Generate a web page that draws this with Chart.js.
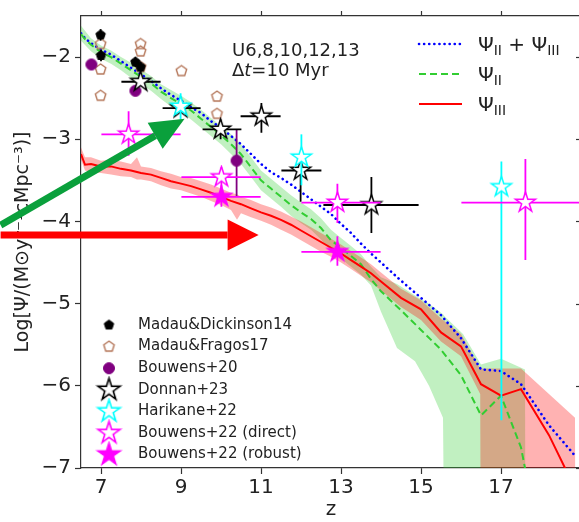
<!DOCTYPE html>
<html>
<head>
<meta charset="utf-8">
<script src="https://cdn.jsdelivr.net/npm/chart.js@4.4.1/dist/chart.umd.min.js"></script>
<style>
  html, body { margin: 0; padding: 0; overflow: hidden; background: #fff; }
  #wrap { width: 590px; height: 522px; }
</style>
</head>
<body>
<div id="wrap"><canvas id="sfrd" width="590" height="522"></canvas></div>
<script>
// --- model curves (log SFRD vs z) ---
const modelZ = [6.5, 6.6, 6.75, 7.0, 7.25, 7.5, 7.75, 8.0, 8.25, 8.5, 8.75, 9.0, 9.25, 9.5, 9.75, 10.0, 10.25, 10.5, 10.75, 11.0, 11.25, 11.5, 11.75, 12.0, 12.25, 12.5, 12.75, 13.0, 13.25, 13.5, 13.75, 14.0, 14.5, 15.0, 15.5, 16.0, 16.5, 17.0, 17.5, 18.2, 18.85];
const psiSum = [-1.71, -1.77, -1.83, -1.91, -1.97, -2.05, -2.13, -2.21, -2.29, -2.38, -2.46, -2.53, -2.61, -2.68, -2.78, -2.86, -2.96, -3.06, -3.18, -3.30, -3.40, -3.47, -3.55, -3.64, -3.73, -3.82, -3.91, -4.03, -4.14, -4.27, -4.39, -4.50, -4.72, -4.93, -5.14, -5.42, -5.80, -5.82, -5.98, -6.48, -6.85];
const psi2 = [-1.72, -1.78, -1.85, -1.94, -2.00, -2.08, -2.16, -2.24, -2.32, -2.42, -2.50, -2.57, -2.65, -2.75, -2.85, -2.95, -3.06, -3.18, -3.34, -3.50, -3.60, -3.70, -3.80, -3.89, -3.97, -4.08, -4.23, -4.32, -4.42, -4.52, -4.70, -4.85, -5.08, -5.32, -5.56, -5.87, -6.36, -6.12, -6.75, -8.5, -9.0];
const psi3 = [-3.18, -3.31, -3.30, -3.33, -3.33, -3.36, -3.38, -3.41, -3.43, -3.47, -3.51, -3.54, -3.57, -3.61, -3.65, -3.70, -3.75, -3.79, -3.84, -3.89, -3.93, -3.98, -4.04, -4.11, -4.18, -4.25, -4.32, -4.39, -4.47, -4.55, -4.63, -4.73, -4.93, -5.07, -5.35, -5.52, -5.98, -6.12, -6.04, -6.60, -7.25];

// shaded ranges
const psi2BandZ = [6.5, 6.75, 7.0, 7.25, 7.5, 7.75, 8.0, 8.25, 8.5, 8.75, 9.0, 9.25, 9.5, 9.75, 10.0, 10.25, 10.5, 10.75, 11.0, 11.25, 11.5, 11.75, 12.0, 12.25, 12.5, 12.75, 13.0, 13.25, 13.5, 13.75, 14.0, 14.4, 14.85, 15.2, 15.55, 15.6, 16.05, 16.5, 17.0, 17.6, 17.62];
const psi2Hi = [-1.62, -1.77, -1.86, -1.92, -2.00, -2.07, -2.15, -2.23, -2.33, -2.40, -2.47, -2.55, -2.64, -2.74, -2.84, -2.94, -3.06, -3.22, -3.38, -3.48, -3.58, -3.68, -3.77, -3.85, -3.96, -4.10, -4.20, -4.30, -4.40, -4.55, -4.68, -4.76, -4.90, -5.00, -5.13, -5.16, -5.37, -5.74, -5.67, -5.80, -9.0];
const psi2Lo = [-1.80, -1.93, -2.02, -2.08, -2.16, -2.25, -2.33, -2.41, -2.51, -2.60, -2.67, -2.76, -2.86, -2.96, -3.06, -3.18, -3.30, -3.46, -3.62, -3.72, -3.82, -3.93, -4.02, -4.10, -4.22, -4.36, -4.45, -4.55, -4.65, -4.78, -5.10, -5.54, -5.70, -6.00, -6.39, -9.0, -9.0, -9.0, -9.0, -9.0, -9.0];
const psi3BandZ = [6.5, 6.6, 6.75, 7.0, 7.25, 7.5, 7.75, 7.9, 8.0, 8.25, 8.5, 8.75, 9.0, 9.25, 9.5, 9.75, 10.0, 10.25, 10.4, 10.5, 10.75, 11.0, 11.25, 11.5, 11.75, 12.0, 12.25, 12.5, 12.75, 13.0, 13.25, 13.5, 13.75, 14.0, 14.5, 15.0, 15.5, 16.0, 16.48, 16.5, 17.0, 17.5, 18.85, 18.87];
const psi3Hi = [-3.10, -3.22, -3.22, -3.26, -3.25, -3.27, -3.30, -3.22, -3.33, -3.35, -3.39, -3.42, -3.46, -3.47, -3.51, -3.55, -3.60, -3.65, -3.67, -3.70, -3.74, -3.79, -3.83, -3.88, -3.94, -4.00, -4.07, -4.14, -4.21, -4.28, -4.36, -4.44, -4.52, -4.62, -4.82, -4.96, -5.18, -5.37, -5.79, -5.79, -5.79, -5.79, -6.39, -9.0];
const psi3Lo = [-3.25, -3.38, -3.40, -3.41, -3.43, -3.45, -3.46, -3.49, -3.49, -3.51, -3.56, -3.60, -3.62, -3.66, -3.70, -3.75, -3.80, -3.86, -3.98, -3.90, -3.95, -3.99, -4.04, -4.10, -4.16, -4.23, -4.30, -4.37, -4.43, -4.50, -4.58, -4.66, -4.74, -4.84, -5.04, -5.20, -5.46, -5.64, -6.10, -9.0, -9.0, -9.0, -9.0, -9.0];

// --- observations: [z, logSFRD, zMinus, zPlus, logMinus, logPlus] ---
const madauDickinson14 = [[6.99, -1.73, 0, 0, 0.07, 0.07], [7.0, -1.98, 0, 0, 0.07, 0.07], [7.86, -2.06, 0, 0, 0.06, 0.06], [7.99, -2.12, 0, 0, 0.06, 0.06]];
const madauFragos17 = [[6.99, -1.84], [6.99, -2.15], [6.99, -2.47], [7.99, -1.84], [7.99, -1.93], [7.99, -2.12], [9.01, -2.17], [9.9, -2.48], [9.9, -2.69]];
const bouwens20 = [[6.76, -2.09], [7.86, -2.41], [10.39, -3.26, 0, 0, 0.44, 0.38]];
const donnan23 = [[7.99, -2.30, 0.48, 0.50, 0.05, 0.05], [8.99, -2.62, 0.45, 0.50, 0.05, 0.05], [9.99, -2.88, 0.45, 0.52, 0.12, 0.12], [11.01, -2.72, 0.52, 0.48, 0.20, 0.16], [11.99, -3.38, 0.48, 0.52, 0.38, 0.10], [13.76, -3.80, 1.20, 1.18, 0.34, 0.34]];
const harikane22 = [[8.99, -2.60, 0, 0, 0.16, 0.16], [12.01, -3.22, 0, 0, 0.34, 0.28], [17.01, -3.58, 0, 0, 2.84, 0.31]];
const bouwens22Direct = [[7.69, -2.94, 0.68, 1.30, 0.26, 0.28], [10.01, -3.46, 1.0, 0.98, 0.14, 0.12], [12.91, -3.77, 0.9, 1.08, 0.25, 0.23], [17.61, -3.77, 1.6, 1.6, 0.70, 0.53]];
const bouwens22Robust = [[10.01, -3.70, 1.0, 0.98, 0.12, 0.14], [12.91, -4.37, 0.9, 1.08, 0.17, 0.19]];

const xTicks = [7, 9, 11, 13, 15, 17];
const yTicks = [-2, -3, -4, -5, -6, -7];

const FONT = 'DejaVu Sans';
const INK = '#222';
const GREEN = 'rgb(50,205,50)';
const BROWN = '#b5775a';
const PURPLE = '#800080';

const pts = (zs, vs) => zs.map((z, i) => ({ x: z, y: vs[i] }));
const obsPts = rows => rows.map(r => ({ x: r[0], y: r[1] }));

function marker(kind, fill, stroke, r, lw) {
  const c = document.createElement('canvas');
  const s = Math.ceil(2 * r + lw + 2);
  c.width = c.height = s;
  const g = c.getContext('2d');
  g.translate(s / 2, s / 2);
  g.beginPath();
  if (kind === 'circle') {
    g.arc(0, 0, r, 0, 2 * Math.PI);
  } else {
    const n = kind === 'star' ? 10 : 5;
    for (let i = 0; i < n; i++) {
      const rr = kind === 'star' && i % 2 ? r * 0.382 : r;
      const a = -Math.PI / 2 + i * 2 * Math.PI / n;
      g.lineTo(rr * Math.cos(a), rr * Math.sin(a));
    }
    g.closePath();
  }
  if (fill) { g.fillStyle = fill; g.fill(); }
  if (stroke) { g.lineWidth = lw; g.strokeStyle = stroke; g.stroke(); }
  return c;
}

const mk = {
  md: marker('pentagon', '#000', '#000', 5, 1),
  mf: marker('pentagon', null, BROWN, 5.5, 1.4),
  b20: marker('circle', PURPLE, PURPLE, 5.5, 1),
  don: marker('star', '#fff', '#000', 10.5, 1.5),
  har: marker('star', '#fff', '#00ffff', 10.5, 1.5),
  bd: marker('star', '#fff', '#ff00ff', 10.5, 1.5),
  br: marker('star', '#ff00ff', '#ff00ff', 10.5, 1.5),
};

const band = (label, zs, vs, color, fill, order) => ({
  label, data: pts(zs, vs), showLine: true, borderWidth: 0, pointRadius: 0,
  backgroundColor: color, fill, order,
});
const curve = (label, vs, color, dash, width, cap, order) => ({
  label, data: pts(modelZ, vs), showLine: true, borderColor: color, borderWidth: width,
  borderDash: dash, borderCapStyle: cap, pointRadius: 0, fill: false, order,
});
const obs = (label, rows, img, errColor, order) => ({
  label, data: obsPts(rows), rows, errColor, pointStyle: img, pointRadius: 6, order,
});

const datasets = [
  band('psi2 hi', psi2BandZ, psi2Hi, 'rgba(50,205,50,0.3)', '+1', 30),
  band('psi2 lo', psi2BandZ, psi2Lo, 'rgba(0,0,0,0)', false, 31),
  band('psi3 hi', psi3BandZ, psi3Hi, 'rgba(255,0,0,0.3)', '+1', 28),
  band('psi3 lo', psi3BandZ, psi3Lo, 'rgba(0,0,0,0)', false, 29),
  curve('ΨII + ΨIII', psiSum, '#0000ff', [0.1, 5], 2.6, 'round', 22),
  curve('ΨII', psi2, GREEN, [7, 4], 2, 'butt', 21),
  curve('ΨIII', psi3, '#ff0000', [], 2, 'butt', 20),
  obs('Madau&Fragos17', madauFragos17, mk.mf, null, 9),
  obs('Madau&Dickinson14', madauDickinson14, mk.md, '#000', 8),
  obs('Bouwens+20', bouwens20, mk.b20, PURPLE, 7),
  obs('Donnan+23', donnan23, mk.don, '#000', 6),
  obs('Harikane+22', harikane22, mk.har, '#00ffff', 5),
  obs('Bouwens+22 (direct)', bouwens22Direct, mk.bd, '#ff00ff', 4),
  obs('Bouwens+22 (robust)', bouwens22Robust, mk.br, '#ff00ff', 3),
];

// error bars, drawn just under each dataset's own markers
const errorBars = {
  id: 'errorBars',
  beforeDatasetDraw(chart, args) {
    const ds = chart.data.datasets[args.index];
    if (!ds.rows || !ds.errColor) return;
    const { ctx, chartArea: a, scales: { x, y } } = chart;
    ctx.save();
    ctx.beginPath();
    ctx.rect(a.left, a.top, a.right - a.left, a.bottom - a.top);
    ctx.clip();
    ctx.strokeStyle = ds.errColor;
    ctx.lineWidth = 1.8;
    ds.rows.forEach(([z, v, zm, zp, vm, vp]) => {
      ctx.beginPath();
      if (zm || zp) {
        ctx.moveTo(x.getPixelForValue(z - zm), y.getPixelForValue(v));
        ctx.lineTo(x.getPixelForValue(z + zp), y.getPixelForValue(v));
      }
      if (vm || vp) {
        ctx.moveTo(x.getPixelForValue(z), y.getPixelForValue(v - vm));
        ctx.lineTo(x.getPixelForValue(z), y.getPixelForValue(v + vp));
      }
      ctx.stroke();
    });
    ctx.restore();
  },
};

function subText(ctx, x, y, parts, size) {
  parts.forEach(([t, sub]) => {
    ctx.font = (sub ? size * 0.7 : size) + 'px ' + FONT;
    ctx.fillText(t, x, y + (sub ? size * 0.22 : 0));
    x += ctx.measureText(t).width;
  });
}

function arrow(ctx, x0, y0, x1, y1, color, w, headLen, headW) {
  const ang = Math.atan2(y1 - y0, x1 - x0);
  const bx = x1 - headLen * Math.cos(ang), by = y1 - headLen * Math.sin(ang);
  ctx.save();
  ctx.strokeStyle = ctx.fillStyle = color;
  ctx.lineWidth = w;
  ctx.beginPath(); ctx.moveTo(x0, y0); ctx.lineTo(bx, by); ctx.stroke();
  ctx.beginPath();
  ctx.moveTo(x1, y1);
  ctx.lineTo(bx + headW * Math.sin(ang), by - headW * Math.cos(ang));
  ctx.lineTo(bx - headW * Math.sin(ang), by + headW * Math.cos(ang));
  ctx.closePath(); ctx.fill();
  ctx.restore();
}

// annotation arrows, in data coordinates: [z0, v0, z1, v1]
const greenArrow = [4.49, -4.045, 9.09, -2.75];
const redArrow = [4.49, -4.165, 10.94, -4.165];

const decorations = {
  id: 'decorations',
  afterDraw(chart) {
    const { ctx, chartArea: a, scales: { x, y } } = chart;
    const dsBy = l => chart.data.datasets.find(d => d.label === l);
    ctx.save();
    // inward ticks on the right spine
    ctx.strokeStyle = '#333'; ctx.lineWidth = 1.2;
    yTicks.forEach(v => {
      const py = Math.round(y.getPixelForValue(v)) + 0.5;
      ctx.beginPath(); ctx.moveTo(a.right - 5, py); ctx.lineTo(a.right, py); ctx.stroke();
    });

    // run label
    ctx.fillStyle = INK; ctx.textBaseline = 'alphabetic'; ctx.textAlign = 'left';
    ctx.font = '18px ' + FONT;
    ctx.fillText('U6,8,10,12,13', a.left + 151, a.top + 40);
    let tx = a.left + 151;
    ctx.fillText('Δ', tx, a.top + 60); tx += ctx.measureText('Δ').width;
    ctx.font = 'italic 18px ' + FONT;
    ctx.fillText('t', tx, a.top + 60); tx += ctx.measureText('t').width;
    ctx.font = '18px ' + FONT;
    ctx.fillText('=10 Myr', tx, a.top + 60);

    // model legend (upper right)
    const lines = [
      ['ΨII + ΨIII', [['Ψ'], ['II', 1], [' + Ψ'], ['III', 1]]],
      ['ΨII', [['Ψ'], ['II', 1]]],
      ['ΨIII', [['Ψ'], ['III', 1]]],
    ];
    lines.forEach(([lab, parts], i) => {
      const ds = dsBy(lab);
      const ly = a.top + 28 + i * 30;
      ctx.strokeStyle = ds.borderColor; ctx.lineWidth = ds.borderWidth;
      ctx.lineCap = ds.borderCapStyle;
      ctx.setLineDash(ds.borderDash);
      ctx.beginPath(); ctx.moveTo(a.left + 338, ly); ctx.lineTo(a.left + 381, ly); ctx.stroke();
      ctx.setLineDash([]); ctx.lineCap = 'butt';
      ctx.fillStyle = INK;
      subText(ctx, a.left + 397, ly + 7, parts, 20);
    });

    // observation legend (lower left)
    const obsOrder = ['Madau&Dickinson14', 'Madau&Fragos17', 'Bouwens+20', 'Donnan+23', 'Harikane+22', 'Bouwens+22 (direct)', 'Bouwens+22 (robust)'];
    ctx.font = '15px ' + FONT; ctx.textBaseline = 'middle';
    obsOrder.forEach((lab, i) => {
      const ds = dsBy(lab);
      const ly = a.top + 309 + i * 21.6;
      const img = ds.pointStyle;
      const s = lab.startsWith('Madau') || lab === 'Bouwens+20' ? 1 : 1.1;
      ctx.drawImage(img, a.left + 28 - img.width * s / 2, ly - img.height * s / 2, img.width * s, img.height * s);
      ctx.fillStyle = INK;
      ctx.fillText(lab, a.left + 57, ly);
    });

    // arrows
    arrow(ctx, x.getPixelForValue(greenArrow[0]), y.getPixelForValue(greenArrow[1]),
      x.getPixelForValue(greenArrow[2]), y.getPixelForValue(greenArrow[3]), 'rgb(10,160,60)', 7, 34, 15);
    arrow(ctx, x.getPixelForValue(redArrow[0]), y.getPixelForValue(redArrow[1]),
      x.getPixelForValue(redArrow[2]), y.getPixelForValue(redArrow[3]), 'rgb(255,0,0)', 7, 31, 15.5);
    ctx.restore();
  },
};

const setTicks = vals => s => { s.ticks = vals.map(v => ({ value: v })); };
const minus = v => (v < 0 ? '\u2212' + Math.abs(v) : String(v));

new Chart(document.getElementById('sfrd'), {
  type: 'scatter',
  data: { datasets },
  options: {
    responsive: false,
    animation: false,
    layout: { padding: { left: 0, right: 9, top: 5, bottom: 0 } },
    plugins: { legend: { display: false }, tooltip: { enabled: false } },
    scales: {
      x: {
        type: 'linear', position: 'bottom', min: 6.5, max: 19,
        afterBuildTicks: setTicks(xTicks),
        afterFit: s => { s.height = 54; },
        grid: { drawOnChartArea: false, tickLength: 6, color: '#333', tickWidth: 1.2 },
        border: { color: '#333', width: 1.2 },
        ticks: { font: { family: FONT, size: 20 }, color: INK, padding: 2, maxRotation: 0, autoSkip: false },
        title: { display: true, text: 'z', font: { family: FONT, size: 20 }, color: INK, padding: 0 },
      },
      xTop: {
        type: 'linear', position: 'top', min: 6.5, max: 19,
        afterBuildTicks: setTicks(xTicks),
        afterFit: s => { s.height = 5; },
        grid: { drawOnChartArea: false, tickLength: 5, color: '#333', tickWidth: 1.2 },
        border: { color: '#333', width: 1.2 },
        ticks: { display: false },
      },
      y: {
        type: 'linear', min: -7, max: -1.5,
        afterBuildTicks: setTicks(yTicks),
        afterFit: s => { s.width = 81; },
        grid: { drawOnChartArea: false, tickLength: 6, color: '#333', tickWidth: 1.2 },
        border: { color: '#333', width: 1.2 },
        ticks: { font: { family: FONT, size: 20 }, color: INK, padding: 4, callback: minus },
        title: { display: true, text: 'Log[Ψ/(M⊙yr⁻¹cMpc⁻³)]', font: { family: FONT, size: 19 }, color: INK, padding: { top: 12, bottom: 0 } },
      },
    },
  },
  plugins: [errorBars, decorations],
});
</script>
</body>
</html>
